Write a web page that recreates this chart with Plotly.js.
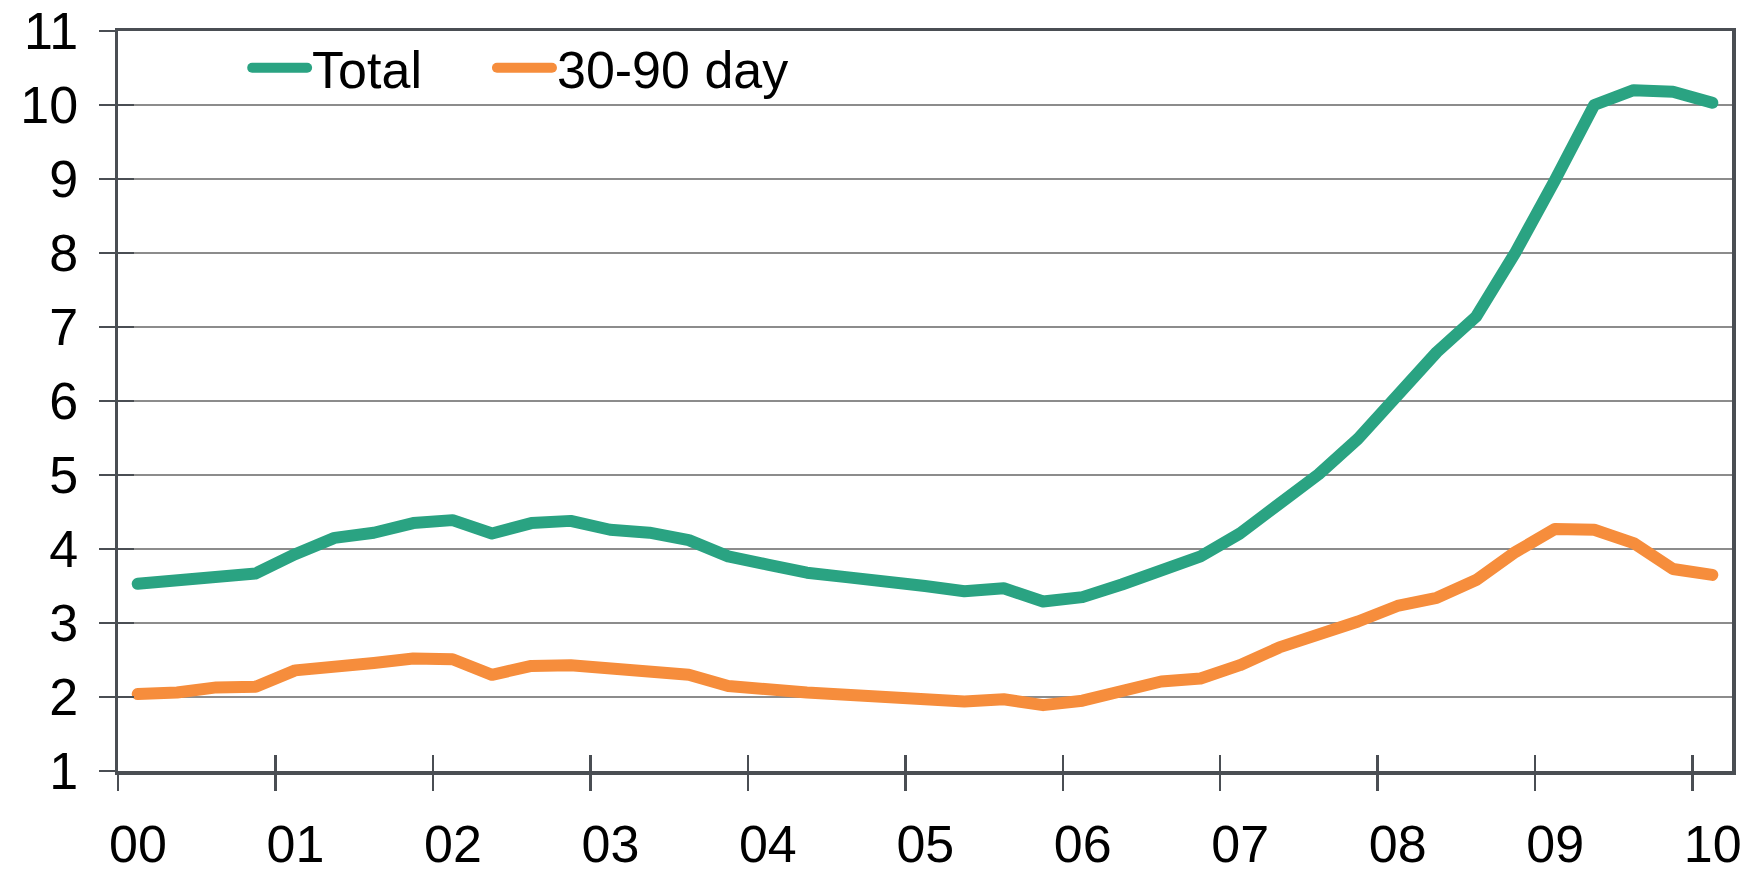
<!DOCTYPE html>
<html>
<head>
<meta charset="utf-8">
<script src="https://cdn.plot.ly/plotly-3.0.1.min.js"></script>
<style>
  html, body { margin: 0; padding: 0; background: #fff; }
  #chart { width: 1759px; height: 872px; }
  .js-line, .legendlines path { stroke-linecap: round; stroke-linejoin: round; }
</style>
</head>
<body>
<div id="chart"></div>
<script>
// Quarterly observations, 2000Q1 .. 2010Q1
const quarters = [
  "2000Q1","2000Q2","2000Q3","2000Q4",
  "2001Q1","2001Q2","2001Q3","2001Q4",
  "2002Q1","2002Q2","2002Q3","2002Q4",
  "2003Q1","2003Q2","2003Q3","2003Q4",
  "2004Q1","2004Q2","2004Q3","2004Q4",
  "2005Q1","2005Q2","2005Q3","2005Q4",
  "2006Q1","2006Q2","2006Q3","2006Q4",
  "2007Q1","2007Q2","2007Q3","2007Q4",
  "2008Q1","2008Q2","2008Q3","2008Q4",
  "2009Q1","2009Q2","2009Q3","2009Q4",
  "2010Q1"
];
const total = [
  3.53, 3.58, 3.64, 3.67,
  3.93, 4.15, 4.22, 4.35,
  4.39, 4.21, 4.35, 4.38,
  4.26, 4.22, 4.12, 3.90,
  3.79, 3.68, 3.62, 3.58,
  3.50, 3.43, 3.47, 3.29,
  3.35, 3.52, 3.71, 3.90,
  4.21, 4.59, 5.01, 5.49,
  6.07, 6.66, 7.14, 8.01,
  8.98, 10.00, 10.20, 10.18,
  10.03
];
const day3090 = [
  2.04, 2.06, 2.13, 2.14,
  2.36, 2.39, 2.46, 2.52,
  2.51, 2.30, 2.42, 2.43,
  2.39, 2.37, 2.30, 2.15,
  2.09, 2.06, 2.03, 2.00,
  1.95, 1.94, 1.97, 1.89,
  1.95, 2.09, 2.21, 2.25,
  2.43, 2.67, 2.83, 3.02,
  3.23, 3.34, 3.58, 3.96,
  4.27, 4.26, 4.08, 3.73,
  3.65
];
const seriesNames = ["Total", "30-90 day"];
const yearLabels = ["00","01","02","03","04","05","06","07","08","09","10"];
const yTickValues = [1,2,3,4,5,6,7,8,9,10,11];

// each quarter occupies one slot; point sits in the middle of its slot
const xPos = quarters.map((q, i) => i + 0.5);
const yearTickPos = yearLabels.map((y, i) => i * 4);

const FONT = "Liberation Sans, Arial, sans-serif";
const AXIS_COLOR = "#4a4e53";
const FS = 52;

const traces = [
  { x: xPos, y: total, name: seriesNames[0], type: "scatter", mode: "lines",
    line: { color: "#2aa382", width: 12 }, hoverinfo: "skip", legend: "legend" },
  { x: xPos, y: day3090, name: seriesNames[1], type: "scatter", mode: "lines",
    line: { color: "#f68d3c", width: 12 }, hoverinfo: "skip", legend: "legend2" },
  // invisible trace to carry the second (inside-tick) axes
  { x: [0], y: [1], xaxis: "x2", yaxis: "y2", mode: "markers",
    marker: { opacity: 0 }, showlegend: false, hoverinfo: "skip" }
];

const legendBase = {
  orientation: "h", y: 0.95, xanchor: "left", yanchor: "middle",
  bgcolor: "rgba(0,0,0,0)", font: { size: FS, color: "#000", family: FONT },
  itemwidth: 55
};

const layout = {
  width: 1759, height: 872,
  margin: { l: 118, r: 27, t: 31, b: 101 },
  paper_bgcolor: "#fff", plot_bgcolor: "#fff",
  font: { family: FONT, size: FS, color: "#000" },
  showlegend: true,
  legend: Object.assign({}, legendBase, { x: 0.08 }),
  legend2: Object.assign({}, legendBase, { x: 0.2317 }),
  xaxis: {
    range: [0, 41], tickmode: "array", tickvals: yearTickPos, ticktext: yearLabels,
    ticks: "outside", ticklen: 16, tickwidth: 2.5, tickcolor: AXIS_COLOR,
    showline: true, linecolor: AXIS_COLOR, linewidth: 3.5, mirror: true,
    showgrid: false, zeroline: false, ticklabelshift: 20, ticklabelstandoff: 9,
    ticklabeloverflow: "allow",
    tickfont: { size: FS, color: "#000" }, fixedrange: true
  },
  xaxis2: {
    overlaying: "x", range: [0, 41], tickmode: "array", tickvals: yearTickPos,
    ticks: "inside", ticklen: 16, tickwidth: 2.5, tickcolor: AXIS_COLOR,
    showticklabels: false, showgrid: false, zeroline: false, showline: false,
    anchor: "y", side: "bottom", fixedrange: true
  },
  yaxis: {
    range: [1, 11], tickmode: "array", tickvals: yTickValues,
    ticks: "outside", ticklen: 16, tickwidth: 2.5, tickcolor: AXIS_COLOR,
    showline: true, linecolor: AXIS_COLOR, linewidth: 3.5, mirror: true,
    showgrid: true, gridcolor: "#8c8c8c", gridwidth: 2, zeroline: false,
    ticklabelstandoff: 10, ticklabeloverflow: "allow",
    tickfont: { size: FS, color: "#000" }, fixedrange: true
  },
  yaxis2: {
    overlaying: "y", range: [1, 11], tickmode: "array", tickvals: yTickValues,
    ticks: "inside", ticklen: 16, tickwidth: 2.5, tickcolor: AXIS_COLOR,
    showticklabels: false, showgrid: false, zeroline: false, showline: false,
    anchor: "x", side: "left", fixedrange: true
  }
};

Plotly.newPlot("chart", traces, layout, { staticPlot: true, displayModeBar: false });
</script>
</body>
</html>
